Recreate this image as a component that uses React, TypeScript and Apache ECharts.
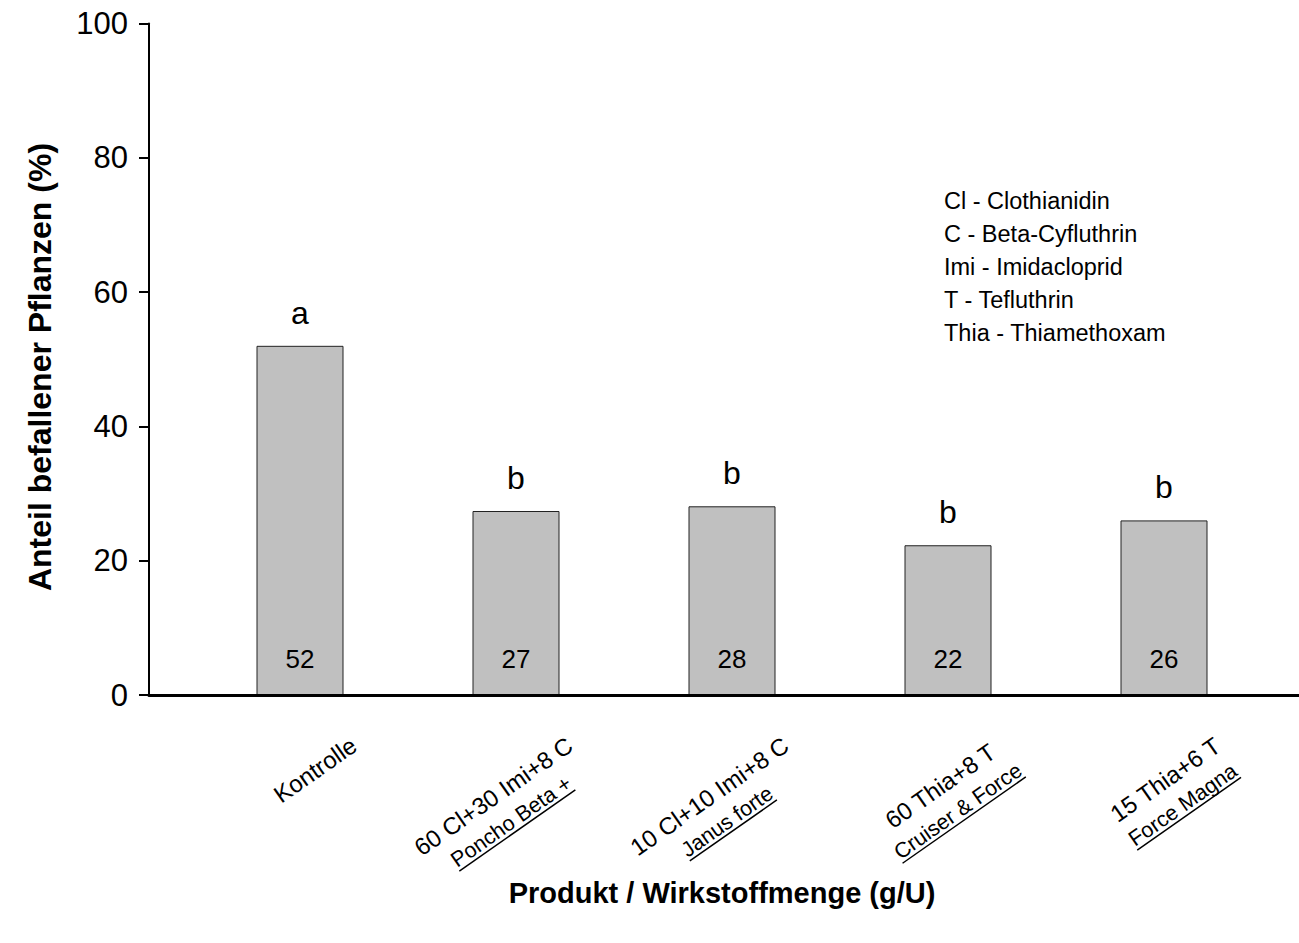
import React, { useEffect, useRef } from "react";
import * as echarts from "echarts";

const labelLine1 = ["Kontrolle", "60 Cl+30 Imi+8 C", "10 Cl+10 Imi+8 C", "60 Thia+8 T", "15 Thia+6 T"];
const labelProduct = ["", "Poncho Beta +", "Janus forte", "Cruiser & Force", "Force Magna"];
const values = [52, 27.4, 28.1, 22.3, 26.0];
const letters = ["a", "b", "b", "b", "b"];
const legendLines = [
  "Cl - Clothianidin",
  "C - Beta-Cyfluthrin",
  "Imi - Imidacloprid",
  "T - Tefluthrin",
  "Thia - Thiamethoxam",
];
const yTitle = "Anteil befallener Pflanzen (%)";
const xTitle = "Produkt / Wirkstoffmenge (g/U)";
const yMin = 0;
const yMax = 100;
const yInterval = 20;

const FONT = "'Liberation Sans', Arial, Helvetica, sans-serif";

export default function App() {
  const ref = useRef<HTMLDivElement>(null);
  useEffect(() => {
    if (!ref.current) return;
    const chart = echarts.init(ref.current, null, { renderer: "svg" });
    const cats = labelLine1.map((_, i) => "c" + i);
    const option: any = {
      animation: false,
      backgroundColor: "#ffffff",
      grid: [
        { left: 149, top: 23.5, width: 1150, height: 671.5 },
        { left: 192, top: 23.5, width: 1080, height: 671.5 },
      ],
      xAxis: [
        {
          gridIndex: 0,
          type: "value",
          min: 0,
          max: 1,
          z: 5,
          axisLine: { show: true, lineStyle: { color: "#000", width: 3 } },
          axisTick: { show: false },
          axisLabel: { show: false },
          splitLine: { show: false },
        },
        {
          gridIndex: 1,
          type: "category",
          data: cats,
          show: false,
        },
      ],
      yAxis: [
        {
          gridIndex: 0,
          type: "value",
          min: yMin,
          max: yMax,
          interval: yInterval,
          z: 5,
          axisLine: { show: true, lineStyle: { color: "#000", width: 2 } },
          axisTick: { show: true, inside: false, length: 10, lineStyle: { color: "#000", width: 2 } },
          axisLabel: { color: "#000", fontSize: 31, fontFamily: FONT, margin: 21 },
          splitLine: { show: false },
        },
        {
          gridIndex: 1,
          type: "value",
          min: yMin,
          max: yMax,
          show: false,
        },
      ],
      series: [
        {
          type: "bar",
          xAxisIndex: 1,
          yAxisIndex: 1,
          data: values,
          barWidth: 87,
          itemStyle: { color: "#C0C0C0", borderColor: "#222", borderWidth: 1 },
          label: {
            show: true,
            position: "insideBottom",
            distance: 23,
            color: "#000",
            fontSize: 26,
            fontFamily: FONT,
            formatter: (p: any) => String(Math.round(p.value)),
          },
        },
        {
          type: "bar",
          xAxisIndex: 1,
          yAxisIndex: 1,
          data: values,
          barWidth: 87,
          barGap: "-100%",
          silent: true,
          itemStyle: { color: "rgba(0,0,0,0)", borderWidth: 0 },
          label: {
            show: true,
            position: "top",
            distance: 17,
            color: "#000",
            fontSize: 32,
            fontFamily: FONT,
            formatter: (p: any) => letters[p.dataIndex],
          },
        },
      ],
    };
    chart.setOption(option);

    const fs1 = 24;
    const fs2 = 21.5;
    const lh = 31;
    const canvas = document.createElement("canvas");
    const ctx = canvas.getContext("2d")!;
    const ang = (35 * Math.PI) / 180;
    const cosA = Math.cos(ang);
    const sinA = Math.sin(ang);
    const cornerDx = 45;
    const cornerY = 730;

    const graphics: any[] = [];
    labelLine1.forEach((l1, i) => {
      const px = chart.convertToPixel({ xAxisIndex: 1 } as any, cats[i]) as unknown as number;
      const l2 = labelProduct[i];
      ctx.font = `${fs1}px 'Liberation Sans', Arial, sans-serif`;
      const w1 = ctx.measureText(l1).width;
      ctx.font = `${fs2}px 'Liberation Sans', Arial, sans-serif`;
      const w2 = l2 ? ctx.measureText(l2).width : 0;
      const w = Math.max(w1, w2);
      const H = l2 ? 2 * lh : lh;
      // place block so that its top-right corner sits at (px + cornerDx, cornerY)
      const cx = px + cornerDx - ((w / 2) * cosA - (H / 2) * sinA);
      const cy = cornerY + (w / 2) * sinA + (H / 2) * cosA;
      const children: any[] = [
        {
          type: "text",
          style: {
            text: l2 ? `{a|${l1}}\n{b|${l2}}` : `{a|${l1}}`,
            x: 0,
            y: 0,
            align: "center",
            verticalAlign: "middle",
            fill: "#000",
            rich: {
              a: { fontSize: fs1, lineHeight: lh, fontFamily: FONT, color: "#000" },
              b: { fontSize: fs2, lineHeight: lh, fontFamily: FONT, color: "#000" },
            },
          },
        },
      ];
      if (l2) {
        const uy = lh / 2 + fs2 * 0.36 + 3;
        children.push({
          type: "line",
          shape: { x1: -w2 / 2, y1: uy, x2: w2 / 2, y2: uy },
          style: { stroke: "#000", lineWidth: 1.5 },
        });
      }
      graphics.push({ type: "group", x: cx, y: cy, rotation: ang, children });
    });

    graphics.push({
      type: "text",
      x: 944,
      y: 184.5,
      style: {
        text: legendLines.join("\n"),
        fontSize: 23.5,
        lineHeight: 33,
        fontFamily: FONT,
        fill: "#000",
        align: "left",
        verticalAlign: "top",
      },
    });
    graphics.push({
      type: "text",
      x: 40,
      y: 367,
      rotation: Math.PI / 2,
      style: {
        text: yTitle,
        fontSize: 32,
        fontWeight: "bold",
        fontFamily: FONT,
        fill: "#000",
        align: "center",
        verticalAlign: "middle",
      },
    });
    graphics.push({
      type: "text",
      x: 722,
      y: 893,
      style: {
        text: xTitle,
        fontSize: 29,
        fontWeight: "bold",
        fontFamily: FONT,
        fill: "#000",
        align: "center",
        verticalAlign: "middle",
      },
    });
    chart.setOption({ graphic: graphics });

    return () => chart.dispose();
  }, []);
  return (
    <div
      ref={ref}
      style={{ position: "absolute", left: 0, top: 0, width: 1299, height: 943 }}
    />
  );
}
